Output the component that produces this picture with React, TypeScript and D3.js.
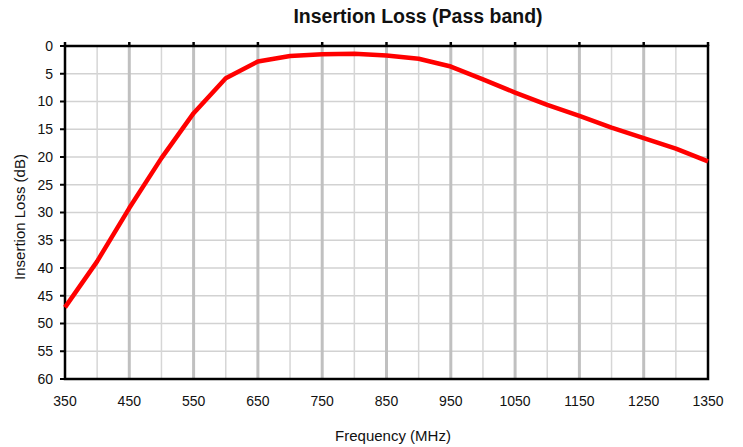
import React, { useEffect, useRef } from "react";
import * as d3 from "d3";

// Insertion loss (dB, larger = more loss)
const frequencies = [
  350, 400, 450, 500, 550, 600, 650, 700, 750, 800, 850, 900, 950, 1000, 1050,
  1100, 1150, 1200, 1250, 1300, 1350,
];
const lossDb = [
  47.1, 38.8, 29.2, 20.2, 12.1, 5.8, 2.8, 1.8, 1.5, 1.4, 1.7, 2.3, 3.7, 6.0, 8.4,
  10.6, 12.6, 14.7, 16.6, 18.5, 20.8,
];
const xMajorTicks = [350, 450, 550, 650, 750, 850, 950, 1050, 1150, 1250, 1350];
const xMinorTicks = [400, 500, 600, 700, 800, 900, 1000, 1100, 1200, 1300];
const yTicks = [0, 5, 10, 15, 20, 25, 30, 35, 40, 45, 50, 55, 60];

const App: React.FC = () => {
  const svgRef = useRef<SVGSVGElement>(null);

  useEffect(() => {
    if (!svgRef.current) return;
    const width = 743;
    const height = 447;
    const margin = { top: 46, right: 35, bottom: 68, left: 65 };
    const innerWidth = width - margin.left - margin.right;
    const innerHeight = height - margin.top - margin.bottom;
    const font = "'Liberation Sans', Arial, sans-serif";

    const svg = d3.select(svgRef.current);
    svg.selectAll("*").remove();
    svg.attr("width", width).attr("height", height);

    const g = svg
      .append("g")
      .attr("transform", `translate(${margin.left},${margin.top})`);

    const x = d3.scaleLinear().domain([350, 1350]).range([0, innerWidth]);
    const y = d3.scaleLinear().domain([0, 60]).range([0, innerHeight]);

    // horizontal grid
    g.selectAll(".hgrid")
      .data(yTicks.slice(1, -1))
      .enter()
      .append("line")
      .attr("x1", 0)
      .attr("x2", innerWidth)
      .attr("y1", (d) => y(d))
      .attr("y2", (d) => y(d))
      .attr("stroke", "#d2d2d2")
      .attr("stroke-width", 1.5);

    // vertical grid, minor then major
    g.selectAll(".vminor")
      .data(xMinorTicks)
      .enter()
      .append("line")
      .attr("x1", (d) => x(d))
      .attr("x2", (d) => x(d))
      .attr("y1", 0)
      .attr("y2", innerHeight)
      .attr("stroke", "#d6d6d6")
      .attr("stroke-width", 1.5);

    g.selectAll(".vmajor")
      .data(xMajorTicks.slice(1, -1))
      .enter()
      .append("line")
      .attr("x1", (d) => x(d))
      .attr("x2", (d) => x(d))
      .attr("y1", 0)
      .attr("y2", innerHeight)
      .attr("stroke", "#c0c0c0")
      .attr("stroke-width", 3);

    // frame
    g.append("rect")
      .attr("x", 0)
      .attr("y", 0)
      .attr("width", innerWidth)
      .attr("height", innerHeight)
      .attr("fill", "none")
      .attr("stroke", "#000")
      .attr("stroke-width", 2.5);

    // top tick marks (x axis sits at 0 dB)
    g.selectAll(".xtick")
      .data(xMajorTicks)
      .enter()
      .append("line")
      .attr("x1", (d) => x(d))
      .attr("x2", (d) => x(d))
      .attr("y1", 0)
      .attr("y2", -4)
      .attr("stroke", "#000")
      .attr("stroke-width", 2.5);

    // y tick marks
    g.selectAll(".ytick")
      .data(yTicks)
      .enter()
      .append("line")
      .attr("x1", -5)
      .attr("x2", 0)
      .attr("y1", (d) => y(d))
      .attr("y2", (d) => y(d))
      .attr("stroke", "#000")
      .attr("stroke-width", 2);

    // y tick labels
    g.selectAll(".ylabel")
      .data(yTicks)
      .enter()
      .append("text")
      .attr("x", -12)
      .attr("y", (d) => y(d))
      .attr("dy", "0.35em")
      .attr("text-anchor", "end")
      .style("font-family", font)
      .style("font-size", "14px")
      .style("fill", "#111")
      .text((d) => d);

    // x tick labels, placed below the plot
    g.selectAll(".xlabel")
      .data(xMajorTicks)
      .enter()
      .append("text")
      .attr("x", (d) => x(d))
      .attr("y", innerHeight + 22)
      .attr("dy", "0.35em")
      .attr("text-anchor", "middle")
      .style("font-family", font)
      .style("font-size", "14px")
      .style("fill", "#111")
      .text((d) => d);

    const line = d3
      .line<number>()
      .x((_, i) => x(frequencies[i]))
      .y((d) => y(d));

    g.append("path")
      .datum(lossDb)
      .attr("d", line)
      .attr("fill", "none")
      .attr("stroke", "#ff0000")
      .attr("stroke-width", 4.5)
      .attr("stroke-linejoin", "round");

    svg
      .append("text")
      .attr("x", 418)
      .attr("y", 23)
      .attr("text-anchor", "middle")
      .style("font-family", font)
      .style("font-size", "19.5px")
      .style("font-weight", "bold")
      .style("fill", "#111")
      .text("Insertion Loss (Pass band)");

    svg
      .append("text")
      .attr("x", 393)
      .attr("y", 441)
      .attr("text-anchor", "middle")
      .style("font-family", font)
      .style("font-size", "15px")
      .style("fill", "#111")
      .text("Frequency (MHz)");

    svg
      .append("text")
      .attr("transform", "rotate(-90)")
      .attr("x", -217)
      .attr("y", 25)
      .attr("text-anchor", "middle")
      .style("font-family", font)
      .style("font-size", "15px")
      .style("fill", "#111")
      .text("Insertion Loss (dB)");
  }, []);

  return (
    <svg
      ref={svgRef}
      style={{ position: "absolute", left: 0, top: 0, background: "#fff" }}
    ></svg>
  );
};

export default App;
